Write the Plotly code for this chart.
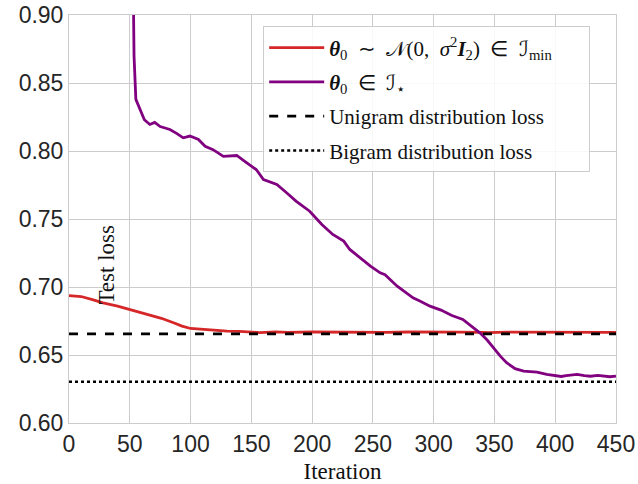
import plotly.graph_objects as go

# Test loss of the two initialisations over training iterations
gauss_iter = [0, 5, 10, 20, 28, 40, 50, 60, 67, 76, 86, 93, 100, 107, 113, 120, 130,
              140, 150, 157, 170, 180, 200, 220, 240, 260, 280, 300, 320, 340, 345,
              360, 380, 400, 420, 440, 450]
gauss_loss = [0.6937, 0.6935, 0.6930, 0.6905, 0.6884, 0.6860, 0.6835, 0.6812, 0.6798,
              0.6770, 0.6737, 0.6712, 0.6695, 0.6690, 0.6688, 0.6682, 0.6675, 0.6673,
              0.6668, 0.6665, 0.6670, 0.6667, 0.6669, 0.6667, 0.6668, 0.6667, 0.6669,
              0.6666, 0.6668, 0.6667, 0.6664, 0.6668, 0.6667, 0.6670, 0.6667, 0.6668,
              0.6667]

star_iter = [52.5, 53.5, 55, 58, 62, 66.5, 70.5, 75, 83, 88.5, 94, 99.5, 106.5, 112,
             118.5, 127, 138, 146, 154, 160, 171, 179, 187, 198, 208, 217, 226, 231,
             240, 248, 256, 260, 270, 283, 289, 297, 306, 315, 324, 331, 338, 344, 349,
             355, 360, 367, 374, 380, 385, 393, 401, 405, 409, 418, 424, 429, 435, 440,
             445, 450]
star_loss = [0.95, 0.87, 0.838, 0.831, 0.823, 0.8195, 0.821, 0.818, 0.8158, 0.813,
             0.8097, 0.811, 0.8085, 0.8035, 0.801, 0.796, 0.7967, 0.7915, 0.7864, 0.779,
             0.7754, 0.7693, 0.763, 0.7557, 0.746, 0.7386, 0.7337, 0.7276, 0.721, 0.7153,
             0.7104, 0.709, 0.7006, 0.692, 0.6896, 0.6859, 0.683, 0.679, 0.6761, 0.671,
             0.6663, 0.661, 0.6553, 0.649, 0.6443, 0.640, 0.6381, 0.6378, 0.6374, 0.6358,
             0.6344, 0.6342, 0.6349, 0.6357, 0.6348, 0.6344, 0.6350, 0.6344, 0.6340,
             0.6345]

unigram_loss = 0.6655
bigram_loss = 0.6303
x_span = [0, 450]

sp = "\u2002"  # en space around relation symbols
pad = sp * 3 + "\u200b"  # right padding inside the legend box
series_names = [
    f"<b><i>θ</i></b><sub>0</sub>{sp}∼{sp}𝒩(0,{sp}<i>σ</i><sup>2</sup>"
    f"<b><i>I</i></b><sub>2</sub>){sp}∈{sp}ℐ<sub>min</sub>{pad}",
    f"<b><i>θ</i></b><sub>0</sub>{sp}∈{sp}ℐ<sub>⋆</sub>",
    "Unigram distribution loss",
    "Bigram distribution loss",
]
series_colors = ["#d62728", "#800080", "black", "black"]
series_dash = ["solid", "solid", "dash", "dot"]

x_ticks = [0, 50, 100, 150, 200, 250, 300, 350, 400, 450]
y_ticks = [0.60, 0.65, 0.70, 0.75, 0.80, 0.85, 0.90]

series_x = [gauss_iter, star_iter, x_span, x_span]
series_y = [gauss_loss, star_loss, [unigram_loss] * 2, [bigram_loss] * 2]

fig = go.Figure()
for i in range(4):
    fig.add_trace(go.Scatter(
        x=series_x[i], y=series_y[i], mode="lines", name=series_names[i],
        legendgroup=f"g{i}",
        line=dict(color=series_colors[i], width=2.8 if i < 2 else 2.6, dash=series_dash[i]),
    ))

grid = "#cccccc"
tick_font = dict(family="Liberation Sans", size=23, color="#262626")
fig.update_layout(
    width=638, height=484,
    margin=dict(l=69, r=22, t=15, b=61, autoexpand=False),
    plot_bgcolor="white", paper_bgcolor="white",
    showlegend=True,
    legend=dict(x=0.355, y=0.972, xanchor="left", yanchor="top",
                bgcolor="rgba(255,255,255,0.85)", bordercolor=grid, borderwidth=1,
                tracegroupgap=4, itemwidth=55,
                font=dict(family="Liberation Serif", size=21, color="#111111")),
    xaxis=dict(range=[0, 450], tickvals=x_ticks, showgrid=True, gridcolor=grid,
               showline=True, linecolor=grid, mirror=True, zeroline=False, automargin=False,
               ticks="", tickfont=tick_font,
               title=dict(text="Iteration", standoff=11,
                          font=dict(family="Liberation Serif", size=23, color="#111111"))),
    yaxis=dict(range=[0.60, 0.90], tickvals=y_ticks, tickformat=".2f", showgrid=True,
               gridcolor=grid, showline=True, linecolor=grid, mirror=True, zeroline=False,
               automargin=False, ticks="", tickfont=tick_font),
    annotations=[dict(text="Test loss", x=31.3, y=0.7165, xref="x", yref="y",
                      showarrow=False, textangle=-90,
                      font=dict(family="Liberation Serif", size=23, color="#111111"))],
)

fig.write_html("out.html")
